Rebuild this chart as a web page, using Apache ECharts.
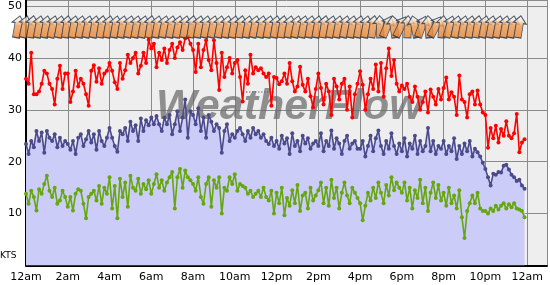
<!DOCTYPE html>
<html><head><meta charset="utf-8">
<script src="https://cdn.jsdelivr.net/npm/echarts@6/dist/echarts.min.js"></script>
<style>html,body{margin:0;padding:0;background:#fff}#c{width:550px;height:285px}</style>
</head><body><div id="c"></div>
<script>
// hour labels for the x axis (every 2 hours)
const xTickLabels = ['12am','2am','4am','6am','8am','10am','12pm','2pm','4pm','6pm','8pm','10pm','12am'];
const yTickValues = [10, 20, 30, 40, 50];
const sampleStepHours = 0.125; // one reading every 7.5 minutes

const gust = [
36,35,41,33,33,33.5,35,37.5,37,35,34,31,36,38.5,34,37,
37,31.5,33.5,37.5,34.5,36,35,33,30.8,37.5,38.6,35.4,38,35,37,37.5,
39,37.5,35.3,34,39,36,37.6,40.6,39,40,41,37,38.5,41,39,43.5,
41.8,42.7,38.2,41,39.6,41.8,39,41.5,42.7,40,42,43,41.5,43.8,44,42.7,
41.5,37.3,42.7,38.2,41.5,43.4,39.6,37.6,43.4,39,33.8,41,36.3,38.2,40,37,
39,39.6,36.3,31.6,37.6,35,40.6,37,38.2,37.6,38,37,36.3,37,30.8,36.3,
36.1,34.9,35.5,37,35,39,35.5,33.5,34.5,38.3,34.8,33.5,36,32.6,30.5,34,
37,34.2,31,35,33.5,29,36,34.5,32,35,36,30,34.5,28.5,33,35,
37.4,34.8,30,33,36,34,38.7,33.5,39,32.5,38,41.8,36.5,39.6,35,33.5,
34.7,34,35,32.5,31.5,34.5,32.5,30,31.5,33.5,29.5,33.9,32.5,31,34,32,
34.2,36.2,32,33.4,32.5,29,36.6,32,31.5,28.5,33,33.5,31,33.7,31,29.5,
29,22.7,26.5,24.5,26.9,23.7,26.3,25,27.8,25,24.5,25.5,29.2,21.8,23.7,24.3
];
const avg = [
23.4,21.5,24,22.8,25.9,24,25.6,21.7,25.9,24.6,24,25.3,22.8,24.6,23,24,
23.4,22.3,24,21.5,24.6,25.3,23,24.3,25.9,23.7,25.3,22.3,25.9,24,23,24.6,
26.5,24.6,23,21.9,25.9,25.3,26.5,24,27.7,25.9,27,24,28.3,25.9,28,27,
28.5,27.2,28.8,27.2,25.9,28.5,27.2,29,25.3,27.2,29.7,25.9,28.5,32,24.6,29.7,
29,27.2,30.3,25.9,28.5,24.6,29,27.7,25.9,27.2,26.5,21.7,25.9,27.2,24,25.3,
24.6,25.9,26.5,25.3,24,25.9,24.6,26.5,25.3,25.9,24.6,25.3,24,23.4,24.6,23,
24,22.5,25,23.5,24.5,21.5,25.5,23,24,22,25,23.5,24.5,22.5,23.5,24,
23,25.5,22,24,23,26,22.5,24.5,23.5,21.5,24,25,22.5,23.5,24,22.5,
22.5,24,21,23,25,22,24.5,26,23,21.5,24,22.5,25.5,23,21.5,23.5,
22,24.5,21,23.5,22.5,25,21.5,24,22,23,26.5,22,24,21.5,23,22.5,
24,21.5,23,22,24.5,20.5,23,21.5,23.5,22,24,21,22.5,21.8,21,19.8,
18.6,17,15.4,17.7,17.5,18,17.9,19.2,19.4,18.5,17.5,17,16.3,16.5,15.4,14.8
];
const lull = [
13.8,11.9,14.4,13.2,10.6,14.7,13.8,15.7,17.3,14.4,13.2,15,11.9,12.5,14.4,13.2,
11.3,13.2,10.6,13.8,14.7,14.4,11.9,9.1,13.2,13.8,14.4,12.5,15.3,11.9,15,13.8,
17,11,15.3,9.1,16.7,13.2,16,11.3,17.3,15,14.4,16.7,13.8,15.7,14.7,16.4,
13.8,15.7,17.6,15,16.4,14.4,16,17,18,11,17,18.6,15,18.3,17,16.4,
15.7,14.4,17,13.2,11.9,15.7,17,11.3,16.4,15,17,10,15,14.4,17,15.7,
17.6,14.4,15.7,15.3,15,13.8,14.4,13.2,13.8,14.4,13.2,15,13.2,12.5,14.4,10,
14,12,15,9.7,13,11.5,14.5,12,15.5,10.5,13.5,14,11,15,12.5,13.5,
14.5,16,12,15,11.5,16.5,13,15,11,14,16,13.5,12,15,14,13,
12,8.7,11.5,14,12.5,15,13,16,14,12,15.5,13.5,17,14.5,16,15,
14,16,12.5,15,11,14.5,13,16.5,12,15,10.5,14,16,13,15.5,12.5,
14,11.5,15,12,13.5,11,14.5,9.3,5.3,10.5,12,13.5,12,14,11,10.5,
10.5,10,11,10.5,11.5,10.8,11.5,12,11,11.8,11.2,12,11,10.8,10.5,9.3
];
// wind direction glyph rotation (degrees), one every 20 minutes
const arrowStepHours = 1/3;
const arrowDirs = [
-10,-12,-9,-11,-10,-13,-10,-8,-11,-10,-12,-10,-9,-11,-10,-10,
-12,-10,-11,-9,-10,-12,-10,-11,-10,-9,-11,-10,-12,-10,-10,-11,
-9,-10,-12,-10,-11,-10,-9,-10,-12,-11,-10,-10,-9,-11,-10,-12,
-10,-11,-10,-9,2,-22,8,-26,-2,12,-20,4,-28,-6,-16,-10,
-11,-10,-9,-12,-10,-11,-10,-10,-9
];
const arrowLevel = 46.0;

const toXY = arr => arr.map((v, i) => [i * sampleStepHours, v]);

const chart = echarts.init(document.getElementById('c'), null, {renderer: 'canvas'});
const font = 'DejaVu Sans';
const arrowGrad = new echarts.graphic.LinearGradient(0, 0, 0, 1, [
  {offset: 0, color: '#ffffff'},
  {offset: 0.25, color: '#fbe3cc'},
  {offset: 0.45, color: '#ee9c55'},
  {offset: 1, color: '#e5812f'}
]);

chart.setOption({
  animation: false,
  backgroundColor: '#ffffff',
  grid: {left: 26, right: 0, top: -2, bottom: 19.5, show: true, backgroundColor: '#eeeeee', borderWidth: 0},
  xAxis: {
    type: 'value', min: 0, max: 24.95, interval: 2,
    axisLine: {show: true, onZero: false, lineStyle: {color: '#000', width: 2}},
    axisTick: {show: false},
    axisLabel: {
      color: '#000', fontFamily: font, fontSize: 11, margin: 6, showMaxLabel: true,
      formatter: v => (Math.abs(v / 2 - Math.round(v / 2)) < 1e-6 && v <= 24) ? xTickLabels[Math.round(v / 2)] : ''
    },
    splitLine: {show: true, lineStyle: {color: '#8a8a8a', width: 1}}
  },
  yAxis: {
    type: 'value', min: 0, max: 51.15, interval: 10,
    axisLine: {show: true, onZero: false, lineStyle: {color: '#000', width: 2}},
    axisTick: {show: false},
    axisLabel: {
      color: '#000', fontFamily: font, fontSize: 11, margin: 4,
      formatter: v => yTickValues.indexOf(v) >= 0 ? String(v) : ''
    },
    splitLine: {show: true, lineStyle: {color: '#8a8a8a', width: 1}}
  },
  graphic: [
    {type: 'text', left: 0, top: 251, z: 10, style: {text: 'KTS', font: '9px "DejaVu Sans"', fill: '#000'}},
    {type: 'text', left: 156, top: 86, z: 2, style: {text: 'WeatherFlow', font: 'italic bold 43px "Liberation Sans"', fill: 'rgba(105,105,105,0.72)'}},
    {type: 'line', z: 2, shape: {x1: 246, y1: 92, x2: 274, y2: 92}, style: {stroke: 'rgba(105,105,105,0.7)', lineWidth: 1.5, lineDash: [1.5, 1.5]}}
  ],
  series: [
    {
      type: 'line', data: toXY(avg), z: 1, symbol: 'none',
      lineStyle: {width: 0}, areaStyle: {color: '#ccccf8', opacity: 1}
    },
    {
      type: 'line', data: toXY(avg), z: 3, symbol: 'circle', symbolSize: 4,
      itemStyle: {color: '#4b4b8c'}, lineStyle: {color: '#4b4b8c', width: 1.6}
    },
    {
      type: 'line', data: toXY(gust), z: 3, symbol: 'circle', symbolSize: 4,
      itemStyle: {color: '#ff0000'}, lineStyle: {color: '#ff0000', width: 1.6}
    },
    {
      type: 'line', data: toXY(lull), z: 3, symbol: 'circle', symbolSize: 4,
      itemStyle: {color: '#66a70f'}, lineStyle: {color: '#66a70f', width: 1.6}
    },
    {
      type: 'scatter', z: 5, clip: false,
      data: arrowDirs.map((r, i) => ({value: [i * arrowStepHours, arrowLevel], symbolRotate: r})),
      symbol: 'path://M0,0 L9,8 L5,8 L5,24 L-5,24 L-5,8 L-9,8 Z',
      symbolSize: [13, 22], symbolOffset: [-8, 0],
      itemStyle: {color: arrowGrad, borderColor: '#1d3550', borderWidth: 1}
    }
  ]
});
</script>
</body></html>
